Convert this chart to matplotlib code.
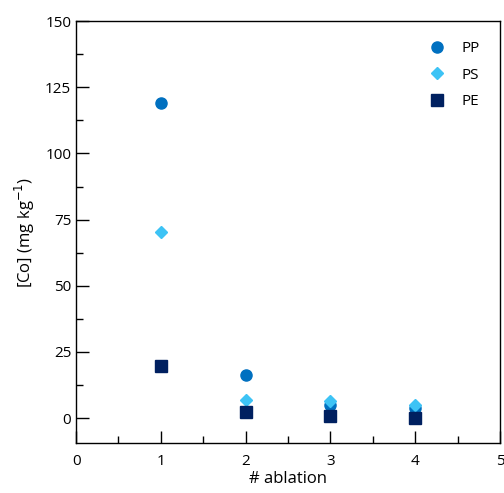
import matplotlib.pyplot as plt
from matplotlib.ticker import MultipleLocator

plt.rcParams['font.family'] = ['Open Sans', 'DejaVu Sans']

ablation = [1, 2, 3, 4]
pp = [119, 16.4, 5.0, 3.8]
ps = [70.5, 6.8, 6.3, 4.9]
pe = [19.6, 2.4, 0.8, 0.1]

fig = plt.figure(figsize=(5.04, 4.93), dpi=100)
ax = fig.add_axes([0.151, 0.101, 0.841, 0.856])

ax.plot(ablation, pp, 'o', color='#0070C0', markersize=8, label='PP')
ax.plot(ablation, ps, 'D', color='#3DC3F5', markersize=6, label='PS')
ax.plot(ablation, pe, 's', color='#002060', markersize=8, label='PE')

ax.set_xlim(0, 5)
ax.set_ylim(-9.5, 150)
ax.set_yticks([0, 25, 50, 75, 100, 125, 150])
ax.xaxis.set_minor_locator(MultipleLocator(0.5))
ax.yaxis.set_minor_locator(MultipleLocator(12.5))
ax.tick_params(which='both', direction='in', top=False, right=False, labelsize=11, width=1)
ax.tick_params(which='major', length=9)
ax.tick_params(which='minor', length=5)
ax.tick_params(axis='x', pad=8)
for s in ax.spines.values():
    s.set_linewidth(1)

ax.set_xlabel('# ablation', fontsize=12, labelpad=1)
ax.set_ylabel('[Co] (mg kg$^{-1}$)', fontsize=12, labelpad=6)

ax.legend(loc='upper right', frameon=False, fontsize=11, handletextpad=0.6,
          labelspacing=0.75, borderaxespad=0.9)

fig.savefig('out.png', dpi=100)
